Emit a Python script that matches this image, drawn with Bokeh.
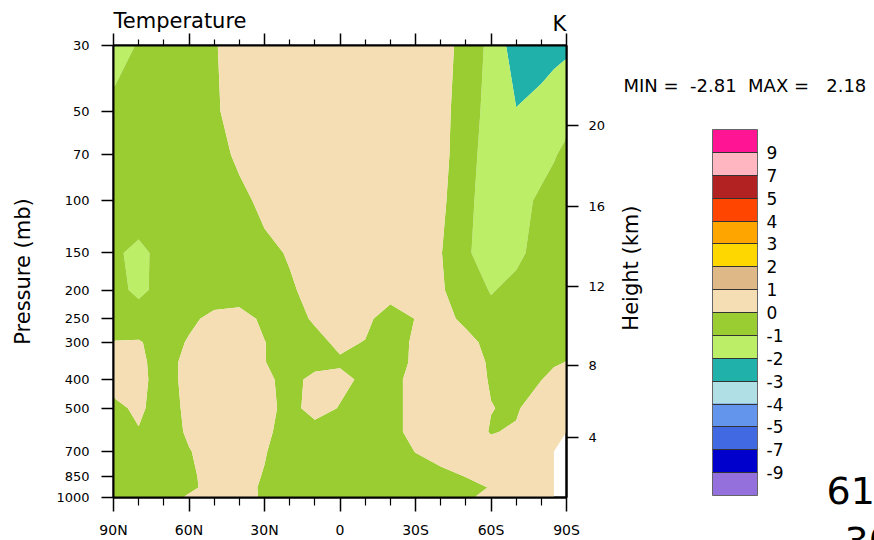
import math
import numpy as np
from bokeh.plotting import figure
from bokeh.models import (Range1d, LinearAxis, LogAxis, FixedTicker, ColorBar,
                          LinearColorMapper, CustomLabelingPolicy)
from bokeh.embed import file_html
from bokeh.resources import INLINE

nan = float("nan")

# ---- data -------------------------------------------------------------
lat = [90, 80, 70, 60, 50, 40, 30, 20, 10, 0, -10, -20, -30, -40, -50, -60, -70, -80, -85, -90]
pressure = [30, 50, 70, 100, 150, 200, 250, 300, 350, 400, 500, 600, 700, 850, 925, 1000]

t30 = [-1.3, -0.95, -0.6, -0.35, -0.05, 0.3, 0.5, 0.6, 0.6, 0.6, 0.6, 0.5, 0.5, 0.85, -0.75, -1.1, -2.6, -2.81, -2.35, -2.15]
t50 = [-0.8, -0.7, -0.5, -0.3, -0.1, 0.3, 0.5, 0.6, 0.6, 0.6, 0.6, 0.6, 0.5, 0.4, -0.6, -1.29, -1.95, -1.25, -1.2, -1.2]
t70 = [-0.7, -0.65, -0.5, -0.35, -0.2, 0.1, 0.4, 0.6, 0.6, 0.6, 0.6, 0.6, 0.5, 0.3, -0.56, -1.52, -1.7, -1.25, -1.05, -0.85]
t100 = [-0.7, -0.65, -0.55, -0.45, -0.3, -0.15, 0.14, 0.4, 0.5, 0.5, 0.5, 0.45, 0.4, 0.25, -0.84, -1.31, -1.3, -0.85, -0.7, -0.6]
t150 = [-0.9, -1.15, -0.8, -0.6, -0.45, -0.3, -0.15, 0.05, 0.4, 0.5, 0.5, 0.5, 0.4, 0.05, -0.9, -1.35, -1.15, -0.75, -0.6, -0.55]
t200 = [-0.85, -1.1, -0.85, -0.65, -0.5, -0.4, -0.25, -0.08, 0.2, 0.4, 0.45, 0.35, 0.3, 0.12, -0.6, -1.05, -0.8, -0.6, -0.55, -0.5]
t250 = [-0.7, -0.75, -0.6, -0.2, 0.25, 0.3, -0.15, -0.25, 0.08, 0.3, 0.2, -0.4, 0.02, 0.3, -0.2, -0.75, -0.7, -0.6, -0.55, -0.5]
t300 = [0.05, 0.1, -0.5, 0.1, 0.4, 0.4, 0.02, -0.4, -0.2, 0.15, -0.03, -0.3, 0.1, 0.4, 0.3, -0.3, -0.6, -0.4, -0.3, -0.15]
t350 = [0.2, 0.2, -0.4, 0.3, 0.5, 0.5, 0.02, -0.3, -0.3, -0.1, -0.4, -0.35, 0.14, 0.5, 0.35, -0.1, -0.5, -0.3, -0.1, 0.02]
t400 = [0.3, 0.25, -0.4, 0.3, 0.5, 0.5, 0.2, -0.3, 0.25, 0.2, -0.15, -0.3, 0.3, 0.5, 0.3, -0.05, -0.5, -0.02, 0.25, 0.4]
t500 = [-0.2, 0.15, -0.4, 0.2, 0.5, 0.5, 0.3, -0.3, 0.35, -0.05, -0.5, -0.3, 0.3, 0.6, 0.4, 0.02, -0.1, 0.5, 0.55, 0.6]
t600 = [-0.4, -0.05, -0.5, 0.15, 0.5, 0.5, 0.2, -0.4, -0.4, -0.5, -0.5, -0.3, 0.3, 0.5, 0.4, -0.05, 0.1, 0.4, 0.3, 0.2]
t700 = [-0.6, -0.5, -0.4, -0.05, 0.4, 0.5, 0.05, -0.4, -0.5, -0.6, -0.5, -0.4, 0.02, 0.4, 0.5, 0.3, 0.3, 0.3, 0.2, nan]
t850 = [-0.6, -0.5, -0.5, -0.15, 0.3, 0.3, -0.05, -0.5, -0.5, -0.6, -0.6, -0.5, -0.4, -0.3, 0.02, 0.4, 0.3, 0.3, 0.2, nan]
t925 = [-0.6, -0.5, -0.5, -0.15, 0.25, 0.25, -0.1, -0.5, -0.5, -0.6, -0.6, -0.6, -0.5, -0.5, -0.3, 0.05, 0.2, 0.1, 0.1, nan]
t1000 = [-0.6, -0.5, -0.3, 0.1, 0.3, 0.3, -0.1, -0.5, -0.5, -0.6, -0.6, -0.6, -0.5, -0.5, -0.1, 0.2, 0.2, 0.2, 0.2, nan]

contour_levels = [-9, -7, -5, -4, -3, -2, -1, 0, 1, 2, 3, 4, 5, 7, 9]
level_colors = ["#9370DB", "#0000CD", "#4169E1", "#6495ED", "#B0E0E6", "#20B2AA",
                "#BCEE68", "#9ACD32", "#F5DEB3", "#DEB887", "#FFD700", "#FFA500",
                "#FF4500", "#B22222", "#FFB6C1", "#FF1493"]

pressure_ticks = [30, 50, 70, 100, 150, 200, 250, 300, 400, 500, 700, 850, 1000]
lat_ticks = [90, 60, 30, 0, -30, -60, -90]
lat_tick_labels = ["90N", "60N", "30N", "0", "30S", "60S", "90S"]
lat_minor = [80, 70, 50, 40, 20, 10, -10, -20, -40, -50, -70, -80]
height_km = [4, 8, 12, 16, 20]
height_p = [628, 358, 195, 104.5, 55.6]

title_left = "Temperature"
title_right = "K"
height_label = "Height (km)"
minmax_text = "MIN =\u00a0 -2.81\u00a0 MAX =\u00a0\u00a0 2.18"
corner_texts = ["61", "30"]

FONT = "DejaVu Sans"

# ---- figure -----------------------------------------------------------
p = figure(width=874, height=540, x_range=Range1d(90, -90), y_range=Range1d(1000, 30),
           y_axis_type="log", output_backend="svg", toolbar_location=None,
           min_border_left=113, min_border_right=308, min_border_top=45, min_border_bottom=43,
           background_fill_color="white", border_fill_color="white")
p.xgrid.grid_line_color = None
p.ygrid.grid_line_color = None
p.outline_line_color = "black"
p.outline_line_width = 2

rows = [t30, t50, t70, t100, t150, t200, t250, t300, t350, t400, t500, t600, t700, t850, t925, t1000]
z = np.ma.masked_invalid(np.array(rows, dtype=float)[:, ::-1])
x = np.array(lat, dtype=float)[::-1]
y = np.array(pressure, dtype=float)
levels = [-1000] + contour_levels + [1000]
p.contour(x, y, z, levels, fill_color=level_colors, line_color=None)

# bottom axis
xb = p.xaxis[0]
xb.ticker = FixedTicker(ticks=lat_ticks, minor_ticks=lat_minor)
xb.major_label_overrides = {v: s for v, s in zip(lat_ticks, lat_tick_labels)}
xb.major_tick_out = 14
xb.major_tick_in = 0
xb.minor_tick_out = 8
xb.minor_tick_in = 0
xb.major_label_standoff = 10
xb.major_label_text_font = FONT
xb.major_label_text_font_size = "14px"

# top axis (ticks only, no labels)
no_labels = CustomLabelingPolicy(code="for (const i of indices) { if (i < 0) yield i }")
xt = LinearAxis(ticker=FixedTicker(ticks=lat_ticks, minor_ticks=lat_minor),
                major_label_policy=no_labels, major_label_text_font_size="10px",
                major_label_standoff=0, major_tick_out=12, major_tick_in=0,
                minor_tick_out=6, minor_tick_in=0)
p.add_layout(xt, "above")

# left axis
yl = p.yaxis[0]
yl.ticker = FixedTicker(ticks=pressure_ticks, minor_ticks=[])
yl.major_label_overrides = {v: str(v) for v in pressure_ticks}
yl.minor_tick_line_color = None
yl.major_tick_out = 12
yl.major_tick_in = 0
yl.major_label_standoff = 12
yl.major_label_text_font = FONT
yl.major_label_text_font_size = "13px"
yl.axis_label = "Pressure (mb)"
yl.axis_label_text_font = FONT
yl.axis_label_text_font_size = "21px"
yl.axis_label_text_font_style = "normal"
yl.axis_label_standoff = 18

# right axis (height); the label reads upward, so it is anchored at the
# bottom of the axis and lifted to the middle with leading no-break spaces
yr = LogAxis(ticker=FixedTicker(ticks=height_p, minor_ticks=[]),
             major_label_overrides={pv: str(h) for pv, h in zip(height_p, height_km)},
             minor_tick_line_color=None, major_tick_out=12, major_tick_in=0,
             major_label_standoff=10, major_label_text_font=FONT,
             major_label_text_font_size="13px",
             axis_label="\u00a0" * 25 + height_label, axis_label_text_font=FONT,
             axis_label_text_font_size="21px", axis_label_text_font_style="normal",
             axis_label_standoff=23, axis_label_orientation=math.pi / 2,
             axis_label_align="end")
p.add_layout(yr, "right")

for ax in [xb, xt, yl, yr]:
    ax.axis_line_width = 2
    ax.axis_line_color = "black"
    ax.major_tick_line_width = 1.5
    ax.minor_tick_line_width = 1.2
    ax.major_label_text_color = "black"
    ax.axis_label_text_color = "black"


# free texts: hosted as titles of bar-less colour-bar annotations,
# which (unlike labels) are drawn outside the data frame
def free_text(txt, loc, size):
    host = ColorBar(color_mapper=LinearColorMapper(palette=["#ffffff"], low=0, high=1),
                    orientation="horizontal", width=1, height=1, location=loc,
                    padding=0, margin=0, scale_alpha=0, bar_line_color=None,
                    ticker=FixedTicker(ticks=[]), major_tick_line_color=None,
                    minor_tick_line_color=None, major_label_text_font_size="1px",
                    label_standoff=0, title=txt, title_standoff=0,
                    title_text_font=FONT, title_text_font_size=size,
                    title_text_font_style="normal", title_text_color="black",
                    background_fill_color=None, border_line_color=None)
    p.add_layout(host)


free_text(title_left, (0, 464), "21px")
free_text(title_right, (439, 461), "21px")
free_text(minmax_text, (510, 401), "18px")
free_text(corner_texts[0], (713, -7), "38px")
free_text(corner_texts[1], (731, -57), "38px")

# colour bar
cb_palette = [c for c in level_colors for _ in range(23)]
mapper = LinearColorMapper(palette=cb_palette, low=0, high=len(level_colors))
cb = ColorBar(color_mapper=mapper, orientation="vertical", width=45, height=366,
              location=(599, 2), padding=0, margin=0,
              ticker=FixedTicker(ticks=list(range(1, len(level_colors)))),
              major_label_overrides={i + 1: str(v) for i, v in enumerate(contour_levels)},
              major_tick_in=45, major_tick_out=0, major_tick_line_color="#333333",
              major_tick_line_width=1.2, minor_tick_line_color=None,
              bar_line_color="#666666", bar_line_width=1, label_standoff=9,
              major_label_text_font=FONT, major_label_text_font_size="17px",
              major_label_text_color="black", background_fill_color=None,
              border_line_color=None)
p.add_layout(cb)

open("out.html", "w").write(file_html(p, INLINE))
